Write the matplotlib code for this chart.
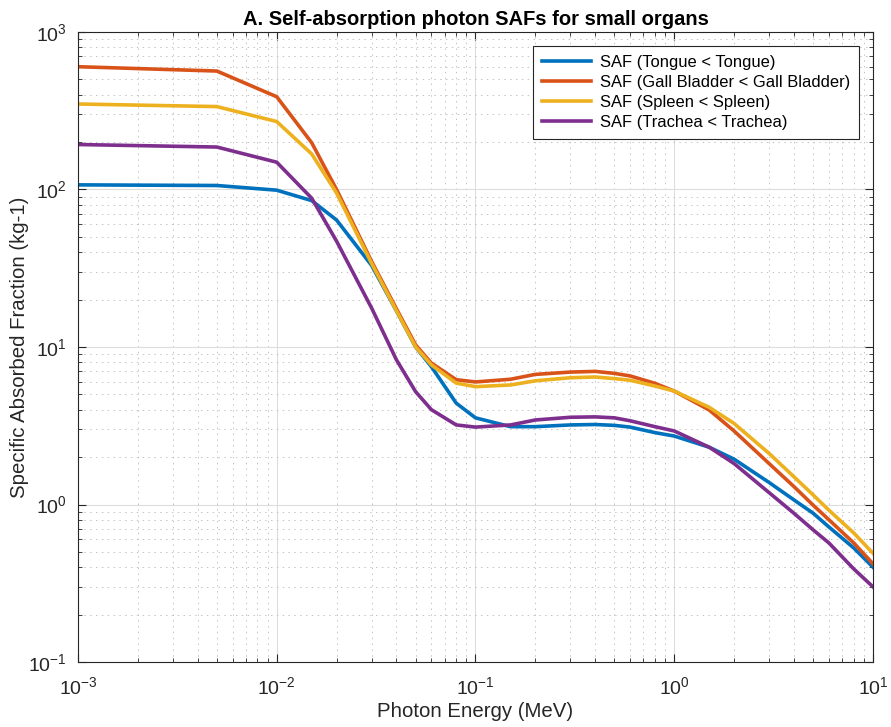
import matplotlib
matplotlib.use('Agg')
import matplotlib.pyplot as plt
from matplotlib.ticker import LogLocator, NullFormatter

plt.rcParams['font.family'] = ['Liberation Sans', 'DejaVu Sans']

energy = [0.001, 0.005, 0.01, 0.015, 0.02, 0.03, 0.04, 0.05, 0.06, 0.08, 0.1,
          0.15, 0.2, 0.3, 0.4, 0.5, 0.6, 0.8, 1, 1.5, 2, 3, 4, 5, 6, 8, 10]

tongue = [107, 106, 99, 85, 64, 33, 17, 10, 7.5, 4.4, 3.55,
          3.12, 3.12, 3.2, 3.22, 3.18, 3.1, 2.86, 2.72, 2.31, 1.94, 1.38, 1.07, 0.88, 0.72, 0.53, 0.40]
gall = [602, 565, 388, 198, 100, 35, 17.5, 10.3, 7.9, 6.2, 6.0,
        6.24, 6.7, 6.93, 7.0, 6.8, 6.55, 5.88, 5.25, 3.98, 2.93, 1.82, 1.30, 0.99, 0.80, 0.57, 0.42]
spleen = [349, 336, 270, 168, 95, 34, 17, 10, 7.7, 5.9, 5.6,
          5.74, 6.1, 6.38, 6.45, 6.3, 6.15, 5.65, 5.25, 4.14, 3.27, 2.11, 1.50, 1.15, 0.92, 0.66, 0.49]
trachea = [193, 186, 149, 88, 47, 17.7, 8.3, 5.2, 4.0, 3.2, 3.1,
           3.2, 3.44, 3.58, 3.6, 3.55, 3.4, 3.12, 2.93, 2.31, 1.82, 1.19, 0.88, 0.69, 0.57, 0.39, 0.30]

labels = ['SAF (Tongue < Tongue)', 'SAF (Gall Bladder < Gall Bladder)',
          'SAF (Spleen < Spleen)', 'SAF (Trachea < Trachea)']
colors = ['#0072BD', '#D95319', '#EDB120', '#7E2F8E']

fig = plt.figure(figsize=(8.91, 7.27), dpi=100)
ax = fig.add_axes([0.0875, 0.0894, 0.8923, 0.8666])

for y, lab, c in zip([tongue, gall, spleen, trachea], labels, colors):
    ax.plot(energy, y, color=c, lw=2.6, label=lab)

ax.set_xscale('log')
ax.set_yscale('log')
ax.set_xlim(1e-3, 1e1)
ax.set_ylim(1e-1, 1e3)

ax.xaxis.set_major_locator(LogLocator(base=10, numticks=10))
ax.yaxis.set_major_locator(LogLocator(base=10, numticks=10))
ax.xaxis.set_minor_locator(LogLocator(base=10, subs=range(2, 10), numticks=20))
ax.yaxis.set_minor_locator(LogLocator(base=10, subs=range(2, 10), numticks=20))
ax.xaxis.set_minor_formatter(NullFormatter())
ax.yaxis.set_minor_formatter(NullFormatter())

ax.grid(True, which='major', color='#dddddd', lw=0.8, ls='-')
ax.grid(True, which='minor', color='#c4c4c4', lw=0.7, ls=(0, (1.5, 4.5)))
ax.set_axisbelow(True)

ax.tick_params(which='both', direction='in', top=True, right=True, colors='#262626',
               labelsize=14)
ax.tick_params(axis='x', which='major', length=6, pad=10)
ax.tick_params(axis='y', which='major', length=6, pad=8)
ax.tick_params(which='minor', length=3)
for s in ax.spines.values():
    s.set_color('#262626')
    s.set_linewidth(0.8)

ax.set_xlabel('Photon Energy (MeV)', fontsize=14.7, color='#262626', labelpad=3)
ax.set_ylabel('Specific Absorbed Fraction (kg-1)', fontsize=14.7, color='#262626')
ax.yaxis.set_label_coords(-0.062, 0.5)
ax.set_title('A. Self-absorption photon SAFs for small organs', fontsize=14.5,
             fontweight='bold', pad=5)

leg = ax.legend(loc='upper right', fontsize=11.9, frameon=True, fancybox=False,
                edgecolor='#262626', framealpha=1, borderaxespad=0.85,
                handlelength=3.0, handletextpad=0.5, labelspacing=0.3, borderpad=0.55)
leg.get_frame().set_linewidth(0.8)

fig.savefig('out.png', dpi=100)
